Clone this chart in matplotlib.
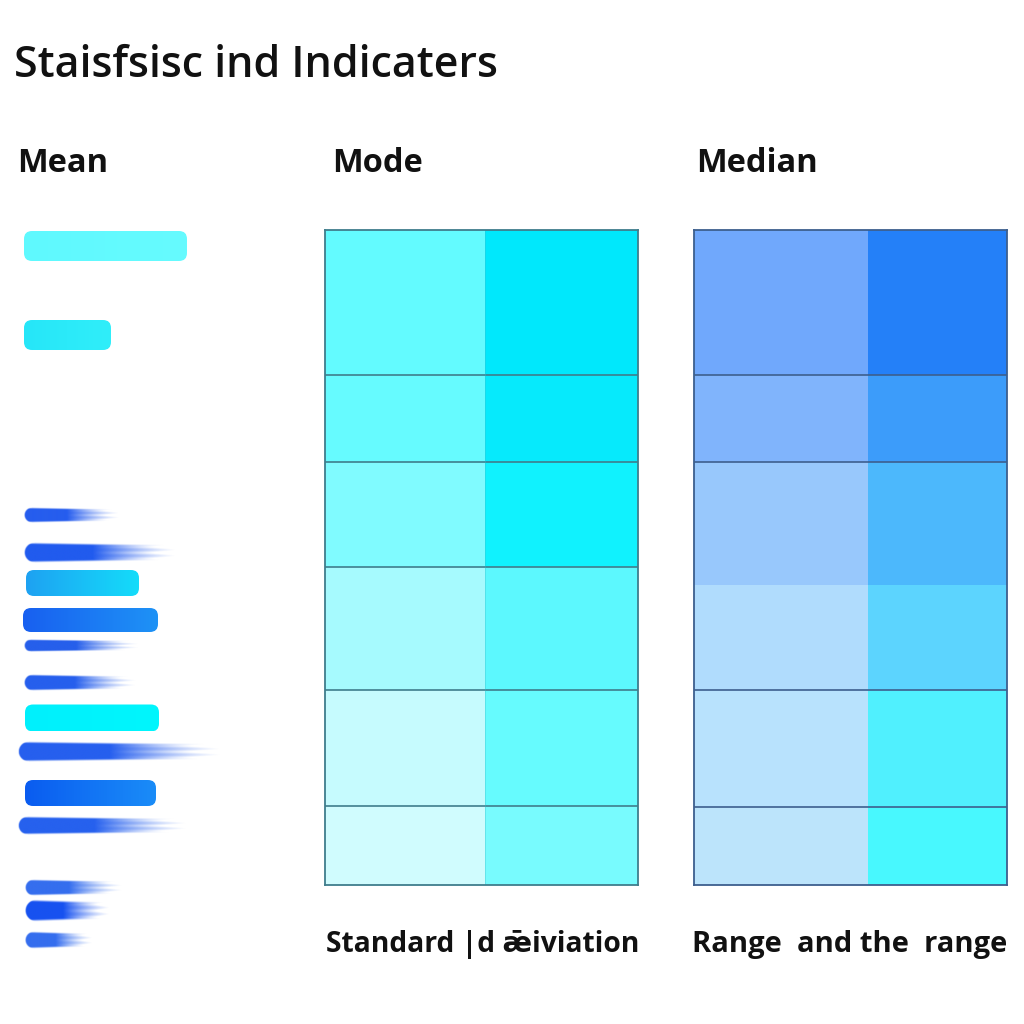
import numpy as np
import matplotlib
matplotlib.use("Agg")
import matplotlib.pyplot as plt
from matplotlib.colors import to_rgb
from matplotlib.patches import FancyBboxPatch

plt.rcParams["font.family"] = ["Open Sans", "DejaVu Sans"]

# =========================================================
# DATA
# =========================================================
title_text = "Staisfsisc ind Indicaters"
panel_titles = ["Mean", "Mode", "Median"]
bottom_labels = ["Standard |d \u01e3iviation", "Range  and the  range"]

# Mean panel: horizontal strokes (length, kind, colour)
mean_lengths = [163, 87, 96, 153, 113, 135, 116, 113, 134, 204, 131, 170, 98, 85, 68]
mean_kinds = ["solid", "solid", "brush", "brush", "solid", "solid", "brush", "brush",
              "solid", "brush", "solid", "brush", "brush", "brush", "brush"]
mean_colors = [("#5ff9fe", "#66fbff"), ("#26e6f8", "#30eefa"), ("#1a54ee", None),
               ("#1552ee", None), ("#1ea2f2", "#14dcfa"), ("#1860f0", "#1e92f6"),
               ("#1a56ea", None), ("#1a56ec", None), ("#00f0fc", "#00f6fd"),
               ("#1a56ee", None), ("#0a5cf0", "#1a8cf8"), ("#1a58ee", None),
               ("#2a66ee", None), ("#0a48f0", None), ("#2a66ee", None)]

# Mode / Median panels: row heights of stacked cells, top to bottom
mode_rows = [145, 87, 105, 123, 116, 79]
mode_left = ["#63fbff", "#66fbff", "#80fbff", "#a6fafe", "#c6fbfe", "#d0fcfe"]
mode_right = ["#00e8fc", "#06eafc", "#10f2fe", "#5cf8fe", "#66fbfe", "#78fbfe"]

median_rows = [145, 87, 123, 105, 117, 78]
median_left = ["#70a8fc", "#80b4fc", "#98c8fc", "#b0dcfd", "#b8e2fd", "#bce4fb"]
median_right = ["#2480f8", "#3c9cfa", "#4cb8fc", "#5cd4fe", "#50f0fe", "#48f8fe"]
median_lines = [True, True, False, True, True]

# layout (pixels of the 1024 canvas)
mean_row_y = [246, 335, 515, 553, 583, 620, 646, 683, 718, 752, 793, 826, 888, 911, 940]
mean_row_h = [30, 30, 16, 21, 26, 24, 13, 17, 27, 21, 26, 19, 17, 23, 18]
mean_x0 = [24, 24, 24, 24, 26, 23, 24, 24, 25, 18, 25, 18, 25, 25, 25]

W = 1024


def fig_rect(x0, y0, x1, y1):
    return [x0 / W, 1 - y1 / W, (x1 - x0) / W, (y1 - y0) / W]


def draw_solid(ax, x0, y, length, h, c1, c2):
    grad = np.linspace(0, 1, 64)
    a, b = np.array(to_rgb(c1)), np.array(to_rgb(c2))
    img = (a[None, :] * (1 - grad[:, None]) + b[None, :] * grad[:, None])[None, :, :]
    patch = FancyBboxPatch((x0, y - h / 2), length, h,
                           boxstyle=f"round,pad=0,rounding_size={min(8, h / 2.6)}",
                           facecolor="none", edgecolor="none")
    ax.add_patch(patch)
    im = ax.imshow(img, extent=(x0, x0 + length, y + h / 2, y - h / 2),
                   aspect="auto", interpolation="bilinear")
    im.set_clip_path(patch)


def draw_brush(ax, x0, y, length, h, color, solid_frac=0.45):
    nx, ny = 300, 48
    xs = np.linspace(0, 1, nx)
    ys = np.linspace(-1, 1, ny)
    X, Y = np.meshgrid(xs, ys)
    # stroke gets a bit thinner towards its tail
    half = 1 - 0.25 * X
    edge = np.clip((half - np.abs(Y)) / 0.2, 0, 1)
    # bristle streaks: each row ends at a slightly different point
    end = 1 - 0.15 * (0.5 + 0.5 * np.sin(Y * 11 + 1.3))
    fade = np.clip((end - X) / (end - solid_frac), 0, 1) ** 1.2
    fade = np.where(X < solid_frac, 1.0, fade)
    # rounded head
    dx = X * length
    r = h / 2
    head = np.where(dx < r, np.clip((r ** 2 - (dx - r) ** 2 - (Y * r) ** 2) / (r * 2), 0, 1), 1.0)
    alpha = edge * fade * head
    rgba = np.zeros((ny, nx, 4))
    rgba[..., :3] = to_rgb(color)
    rgba[..., 3] = alpha * 0.95
    ax.imshow(rgba, extent=(x0, x0 + length, y + h / 2, y - h / 2),
              aspect="auto", interpolation="bilinear")


fig = plt.figure(figsize=(10.24, 10.24), dpi=100)
fig.patch.set_facecolor("white")

# =========================================================
# MEAN PANEL
# =========================================================
ax_mean = fig.add_axes(fig_rect(0, 200, 240, 970))
for i, length in enumerate(mean_lengths):
    c1, c2 = mean_colors[i]
    if mean_kinds[i] == "solid":
        draw_solid(ax_mean, mean_x0[i], mean_row_y[i], length, mean_row_h[i], c1, c2)
    else:
        draw_brush(ax_mean, mean_x0[i], mean_row_y[i], length, mean_row_h[i], c1)
ax_mean.set_xlim(0, 240)
ax_mean.set_ylim(970, 200)
ax_mean.axis("off")


# =========================================================
# MODE / MEDIAN PANELS
# =========================================================
def grid_panel(rect, rows, left, right, split, line_flags, line_color):
    ax = fig.add_axes(rect)
    total = sum(rows)
    bottoms = np.cumsum([0] + rows[:-1])
    ax.bar([0] * len(rows), rows, bottom=bottoms, width=split, align="edge",
           color=left, linewidth=0)
    ax.bar([split] * len(rows), rows, bottom=bottoms, width=1 - split, align="edge",
           color=right, linewidth=0)
    for b, show in zip(bottoms[1:], line_flags):
        if show:
            ax.axhline(b, color=line_color, linewidth=1.2)
    ax.set_xlim(0, 1)
    ax.set_ylim(total, 0)
    ax.set_xticks([])
    ax.set_yticks([])
    for s in ax.spines.values():
        s.set_color(line_color)
        s.set_linewidth(1.3)
    return ax


ax_mode = grid_panel(fig_rect(325, 230, 638, 885), mode_rows, mode_left, mode_right,
                     160 / 313, [True] * 5, "#3f7d8c")
ax_mode.axvline(160 / 313, color="#3fb8c8", linewidth=0.6, alpha=0.4)
ax_median = grid_panel(fig_rect(694, 230, 1007, 885), median_rows, median_left, median_right,
                       174 / 313, median_lines, "#3d5f8e")

# =========================================================
# TEXT
# =========================================================
fig.text(14 / W, 1 - 77 / W, title_text, fontsize=31, fontweight="semibold",
         color="#111111", va="baseline", ha="left")
for x, label in zip([17, 332, 696], panel_titles):
    fig.text(x / W, 1 - 172 / W, label, fontsize=23.5, fontweight="bold",
             color="#111111", va="baseline", ha="left")
for x, label, fs in zip([326, 692], bottom_labels, [20.3, 21]):
    fig.text(x / W, 1 - 952 / W, label, fontsize=fs, fontweight="bold",
             color="#111111", va="baseline", ha="left")

fig.savefig("out.png", dpi=100, facecolor="white")
